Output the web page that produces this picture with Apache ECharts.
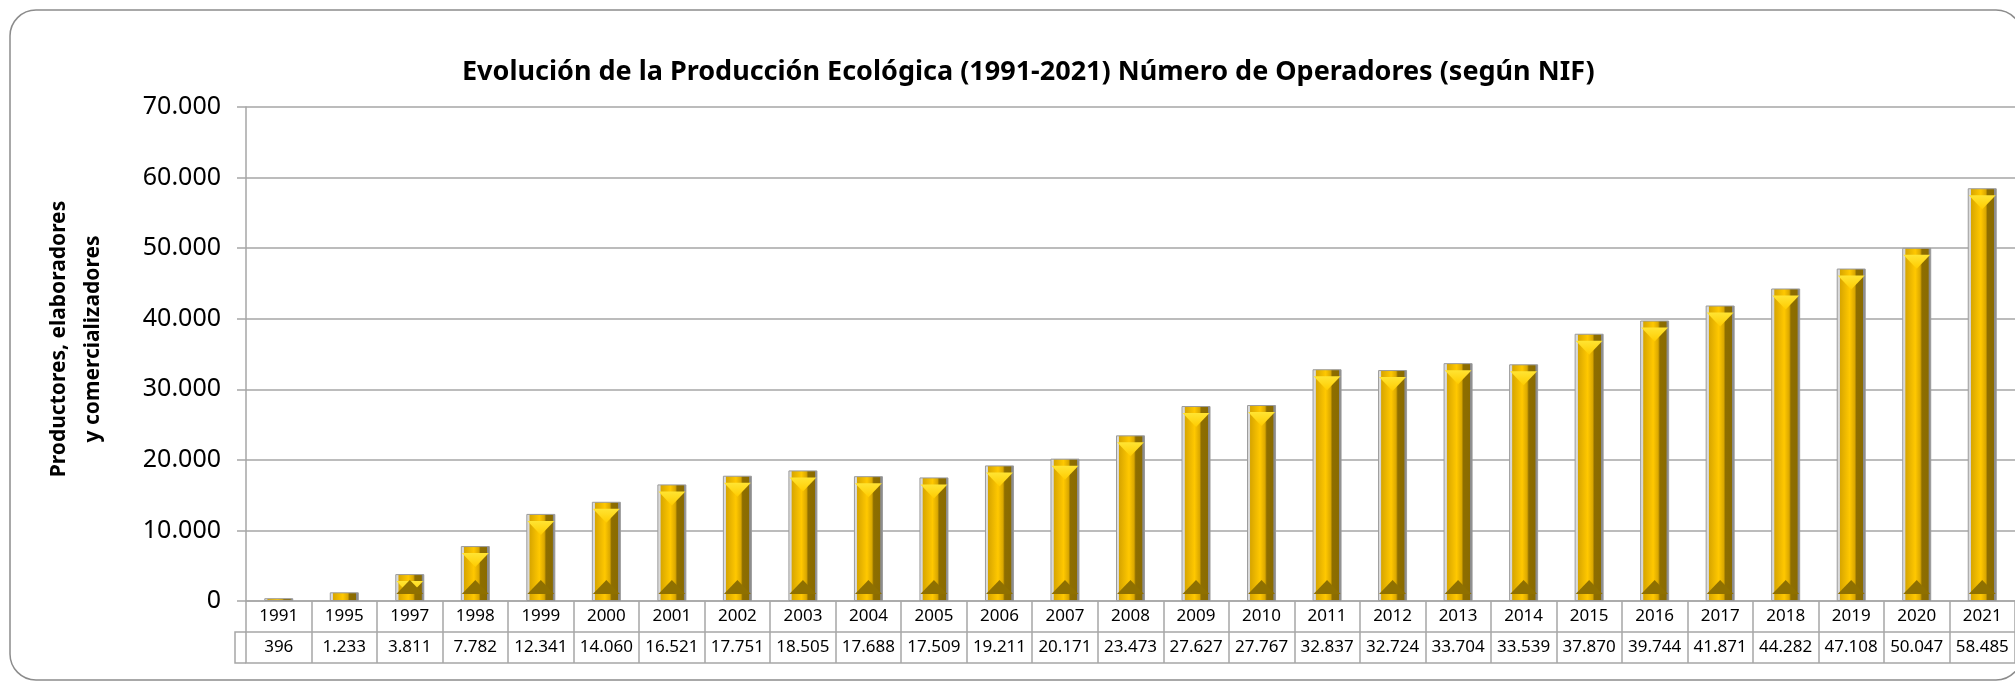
<!DOCTYPE html>
<html>
<head>
<meta charset="utf-8">
<script src="https://cdn.jsdelivr.net/npm/echarts@6/dist/echarts.min.js"></script>
<style>
  html, body { margin: 0; padding: 0; background: #fff; }
  #chart { width: 2015px; height: 683px; }
</style>
</head>
<body>
<div id="chart"></div>
<script>
const years = ['1991', '1995', '1997', '1998', '1999', '2000', '2001', '2002', '2003', '2004',
  '2005', '2006', '2007', '2008', '2009', '2010', '2011', '2012', '2013', '2014',
  '2015', '2016', '2017', '2018', '2019', '2020', '2021']
const operadores = [396, 1233, 3811, 7782, 12341, 14060, 16521, 17751, 18505, 17688,
  17509, 19211, 20171, 23473, 27627, 27767, 32837, 32724, 33704, 33539,
  37870, 39744, 41871, 44282, 47108, 50047, 58485]
const yTicks = [0, 10000, 20000, 30000, 40000, 50000, 60000, 70000]

// formato español: punto como separador de miles
const fmt = v => String(v).replace(/\B(?=(\d{3})+(?!\d))/g, '.')

const gridLine = '#a6a6a6'
const font = 'Noto Sans'

const chart = echarts.init(document.getElementById('chart'))

const option = {
  backgroundColor: '#fff',
  animation: false,
  title: {
    text: 'Evolución de la Producción Ecológica (1991-2021) Número de Operadores (según NIF)',
    left: 457,
    top: 54,
    textStyle: { fontFamily: font, fontSize: 27, fontWeight: 'bold', color: '#000' }
  },
  graphic: [
    {
      type: 'rect',
      shape: { x: 10, y: 10, width: 2012, height: 670, r: 26 },
      style: { fill: 'none', stroke: '#8c8c8c', lineWidth: 1.5 },
      silent: true
    },
    {
      // celda de la leyenda en la tabla de datos
      type: 'polyline',
      shape: { points: [[246, 632], [235, 632], [235, 663], [246, 663]] },
      style: { fill: 'none', stroke: gridLine, lineWidth: 1.5 },
      silent: true
    }
  ],
  grid: { left: 246, top: 107, width: 1779, height: 494 },
  xAxis: [
    {
      type: 'category',
      data: years,
      axisLine: { lineStyle: { color: gridLine, width: 1.5 } },
      axisTick: { show: true, interval: 0, length: 62, lineStyle: { color: gridLine, width: 1.5 } },
      axisLabel: { interval: 0, margin: 7, fontFamily: font, fontSize: 17, color: '#000' }
    },
    {
      type: 'category',
      data: operadores.map(fmt),
      position: 'bottom',
      offset: 31,
      axisLine: { show: true, lineStyle: { color: gridLine, width: 1.5 } },
      axisTick: { show: false },
      axisLabel: { interval: 0, margin: 7, fontFamily: font, fontSize: 17, color: '#000' }
    },
    {
      type: 'category',
      data: years,
      position: 'bottom',
      offset: 62,
      axisLine: { show: true, lineStyle: { color: gridLine, width: 1.5 } },
      axisTick: { show: false },
      axisLabel: { show: false }
    }
  ],
  yAxis: {
    type: 'value',
    min: yTicks[0],
    max: yTicks[yTicks.length - 1],
    interval: yTicks[1] - yTicks[0],
    name: 'Productores, elaboradores\ny comercializadores',
    nameLocation: 'middle',
    nameGap: 136,
    nameTextStyle: {
      fontFamily: font, fontSize: 21, fontWeight: 'bold', color: '#000',
      lineHeight: 34, padding: [0, 0, 0, 30]
    },
    axisLine: { show: true, lineStyle: { color: gridLine, width: 1.5 } },
    axisTick: { show: true, length: 9, lineStyle: { color: gridLine, width: 1.5 } },
    axisLabel: { margin: 25, fontFamily: font, fontSize: 25, color: '#000', formatter: fmt },
    splitLine: { lineStyle: { color: gridLine, width: 1.5 } }
  },
  series: [
    {
      name: 'Operadores',
      type: 'bar',
      data: operadores,
      barWidth: 29,
      itemStyle: {
        borderColor: '#9a9a9a',
        borderWidth: 1,
        color: new echarts.graphic.LinearGradient(0, 0, 1, 0, [
          { offset: 0, color: '#e6e6e6' },
          { offset: 0.1, color: '#d4d4d4' },
          { offset: 0.12, color: '#d8a600' },
          { offset: 0.45, color: '#ffc800' },
          { offset: 0.62, color: '#dba800' },
          { offset: 0.68, color: '#8e6e00' },
          { offset: 0.9, color: '#8a6b00' },
          { offset: 0.92, color: '#8c8c8c' },
          { offset: 1, color: '#8c8c8c' }
        ])
      }
    },
    {
      // bisel superior
      type: 'pictorialBar',
      data: operadores.map(v => (v > 3000 ? v : '-')),
      symbol: 'path://M0,0 L10,0 L5,5 Z',
      symbolSize: [27, 14],
      symbolPosition: 'end',
      symbolOffset: [0, '50%'],
      z: 3,
      itemStyle: {
        color: new echarts.graphic.LinearGradient(0, 0, 0, 1, [
          { offset: 0, color: '#ffe433' },
          { offset: 1, color: '#ffcc00' }
        ])
      },
      silent: true
    },
    {
      // bisel inferior
      type: 'pictorialBar',
      data: operadores.map(v => (v > 3000 ? v : '-')),
      symbol: 'path://M5,0 L10,5 L0,5 Z',
      symbolSize: [27, 14],
      symbolPosition: 'start',
      symbolOffset: [0, '-50%'],
      z: 3,
      itemStyle: { color: '#8f7000' },
      silent: true
    }
  ]
}

chart.setOption(option)
</script>
</body>
</html>
